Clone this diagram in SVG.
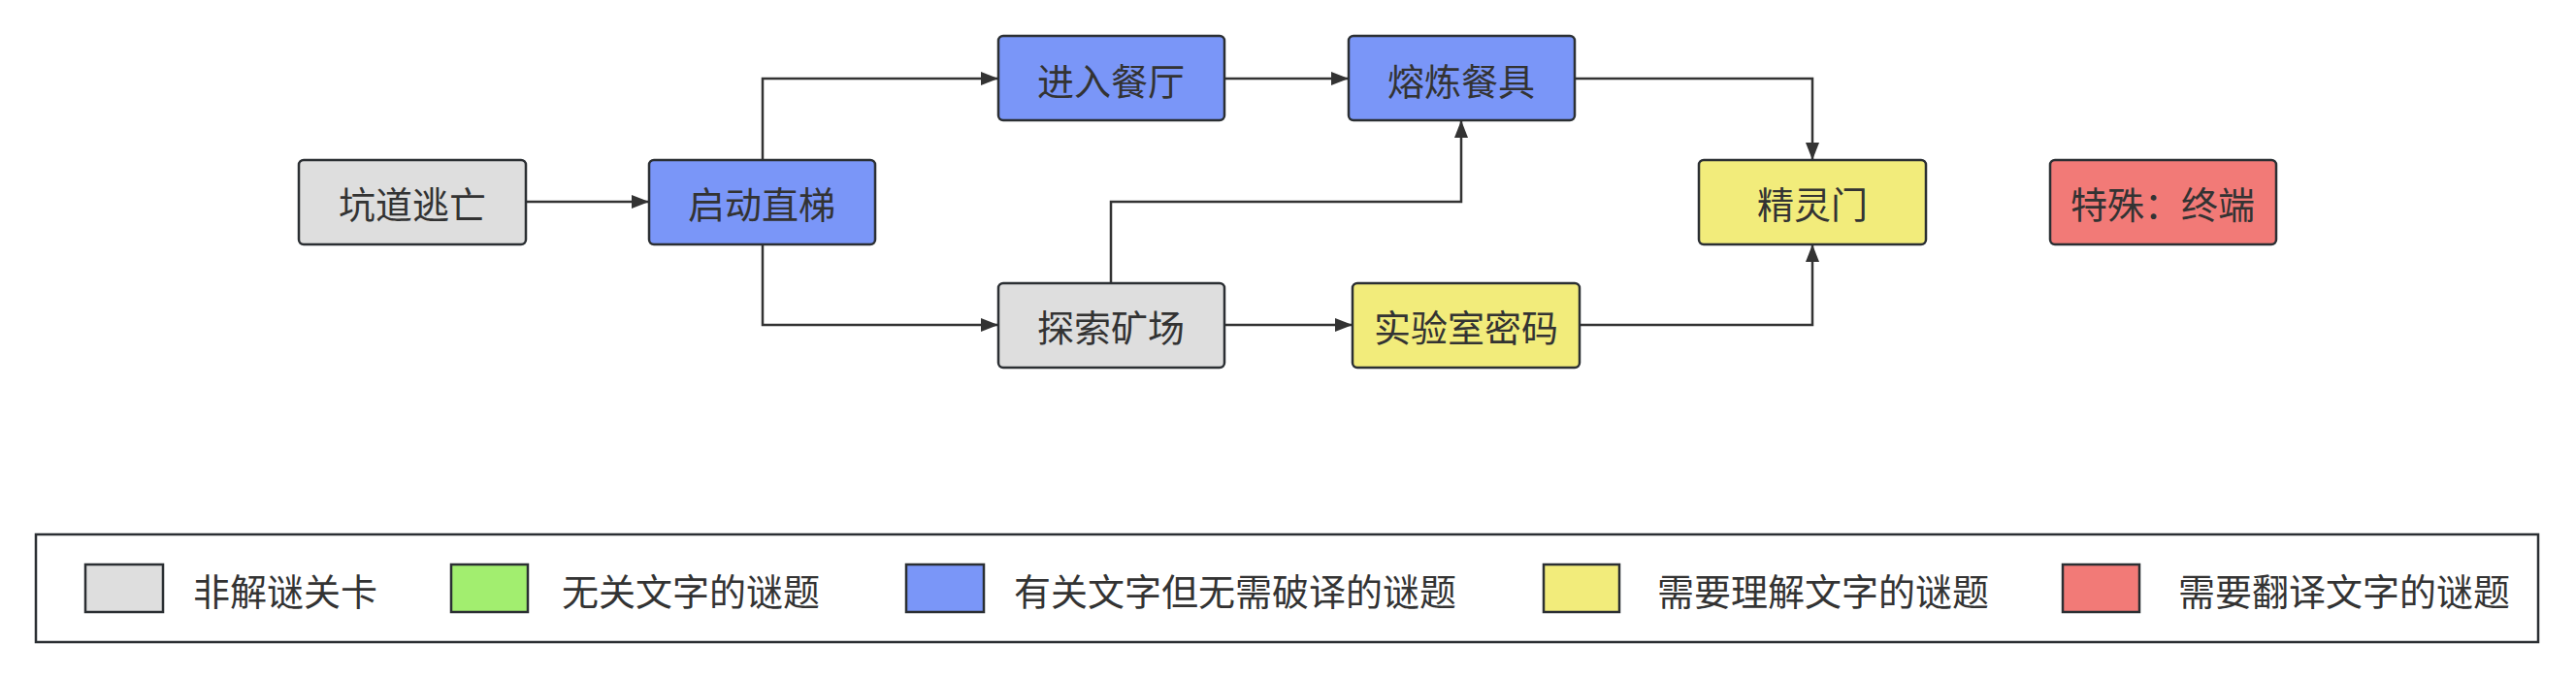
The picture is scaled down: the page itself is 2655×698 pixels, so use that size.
<svg xmlns="http://www.w3.org/2000/svg" width="2655" height="698" viewBox="0 0 2655 698">
<defs>
<style>
.node rect{stroke:#2b2f33;stroke-width:2.5}
.t{font-family:"Noto Sans CJK SC","Noto Sans",sans-serif;font-size:38px;fill:#333333;text-anchor:middle;dominant-baseline:central}
.lt{font-family:"Noto Sans CJK SC","Noto Sans",sans-serif;font-size:38px;fill:#333333;dominant-baseline:central}
.gray{fill:#dedede}.blue{fill:#7a96f8}.yellow{fill:#f2ec7b}.red{fill:#f27a77}.green{fill:#a2ee6f}
.conn path{fill:none;stroke:#333333;stroke-width:2.5;marker-end:url(#arr)}
.sw{stroke:#2b2f33;stroke-width:2.5}
</style>
<marker id="arr" viewBox="0 0 18 14" refX="17" refY="7" markerWidth="18" markerHeight="14" markerUnits="userSpaceOnUse" orient="auto">
<path d="M0,0 L18,7 L0,14 z" fill="#333333"/>
</marker>
</defs>
<rect width="2655" height="698" fill="#ffffff"/>
<g id="connectors" class="conn">
<path d="M542,208 H668"/>
<path d="M786,165 V81 H1028"/>
<path d="M786,252 V335 H1028"/>
<path d="M1262,81 H1389"/>
<path d="M1145,292 V208 H1506 V125"/>
<path d="M1262,335 H1393"/>
<path d="M1623,81 H1868 V164"/>
<path d="M1628,335 H1868 V253"/>
</g>
<g id="n_kengdao" class="node"><rect class="gray" x="308" y="165" width="234" height="87" rx="5"/><text class="t" x="425" y="208">坑道逃亡</text></g>
<g id="n_qidong" class="node"><rect class="blue" x="669" y="165" width="233" height="87" rx="5"/><text class="t" x="785" y="208">启动直梯</text></g>
<g id="n_jinru" class="node"><rect class="blue" x="1029" y="37" width="233" height="87" rx="5"/><text class="t" x="1145" y="81">进入餐厅</text></g>
<g id="n_ronglian" class="node"><rect class="blue" x="1390" y="37" width="233" height="87" rx="5"/><text class="t" x="1506" y="81">熔炼餐具</text></g>
<g id="n_tansuo" class="node"><rect class="gray" x="1029" y="292" width="233" height="87" rx="5"/><text class="t" x="1145" y="335">探索矿场</text></g>
<g id="n_shiyan" class="node"><rect class="yellow" x="1394" y="292" width="234" height="87" rx="5"/><text class="t" x="1511" y="335">实验室密码</text></g>
<g id="n_jingling" class="node"><rect class="yellow" x="1751" y="165" width="234" height="87" rx="5"/><text class="t" x="1868" y="208">精灵门</text></g>
<g id="n_teshu" class="node"><rect class="red" x="2113" y="165" width="233" height="87" rx="5"/><text class="t" x="2229" y="208">特殊：终端</text></g>
<g id="legend">
<rect x="37" y="551" width="2579" height="111" fill="#ffffff" stroke="#2b2f33" stroke-width="2.5"/>
<rect class="sw gray" x="88" y="582" width="80" height="49"/><text class="lt" x="199" y="607">非解谜关卡</text>
<rect class="sw green" x="465" y="582" width="79" height="49"/><text class="lt" x="579" y="607">无关文字的谜题</text>
<rect class="sw blue" x="934" y="582" width="80" height="49"/><text class="lt" x="1045" y="607">有关文字但无需破译的谜题</text>
<rect class="sw yellow" x="1591" y="582" width="78" height="49"/><text class="lt" x="1708" y="607">需要理解文字的谜题</text>
<rect class="sw red" x="2126" y="582" width="79" height="49"/><text class="lt" x="2245" y="607">需要翻译文字的谜题</text>
</g>
</svg>
